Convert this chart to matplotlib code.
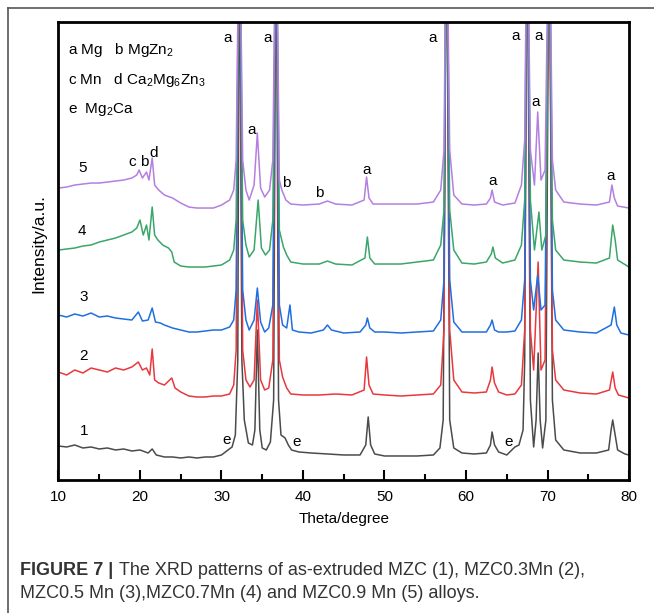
import matplotlib
matplotlib.use("Agg")
import matplotlib.pyplot as plt
from matplotlib.lines import Line2D
from matplotlib.ticker import MultipleLocator

plt.rcParams['font.family'] = ['Liberation Sans', 'DejaVu Sans']
plt.rcParams['mathtext.default'] = 'regular'

# XRD patterns, stacked (intensity already includes the vertical offset)
theta_1 = [10, 11, 12, 13, 14, 15, 16, 17, 18, 19, 20, 21, 21.5, 22, 23, 24, 25, 26, 27, 28, 29, 30,
           30.8, 31.3, 31.7, 32.0, 32.2, 32.5, 32.8, 33.3, 33.8, 34.1, 34.4, 34.7, 35.0, 35.5, 36.0, 36.4,
           36.7, 37.0, 37.3, 37.8, 38.2, 38.6, 39.5, 41, 43, 45, 47, 47.7, 48.0, 48.3, 48.8, 50, 52, 54,
           56, 56.8, 57.2, 57.6, 58.0, 58.5, 59.5, 61, 62.5, 63.0, 63.2, 63.5, 64, 65, 66, 66.5, 67.0,
           67.2, 67.5, 67.9, 68.3, 68.6, 68.85, 69.1, 69.4, 69.8, 70.2, 70.6, 71.0, 72, 74, 76, 77.5,
           77.8, 78.0, 78.3, 78.6, 79.5, 80]
int_1 = [34, 33, 35, 32, 33, 31, 32, 30, 31, 29, 30, 27, 31, 25, 23, 23, 22, 23, 22, 23, 23, 25,
         30, 33, 45, 120, 600, 120, 60, 37, 35, 50, 150, 50, 32, 30, 38, 80,
         600, 80, 45, 42, 35, 30, 28, 27, 26, 25, 25, 35, 63, 35, 26, 24, 24, 24,
         25, 32, 60, 600, 60, 32, 27, 26, 27, 35, 48, 35, 28, 25, 33, 35, 50,
         120, 600, 80, 33, 60, 127, 60, 32, 60, 600, 80, 40, 30, 27, 27, 30,
         50, 60, 45, 30, 26, 25]

theta_2 = [10, 11, 12, 13, 14, 15, 16, 17, 18, 19, 19.8, 20.3, 20.8, 21.2, 21.5, 21.8, 22.3, 23, 23.9,
           24.3, 25, 26, 27, 28, 29, 30, 31, 31.5, 31.8, 32.2, 32.6, 33.0, 33.5, 34.0, 34.4, 34.8, 35.3,
           35.8, 36.3, 36.7, 37.1, 37.5, 38.0, 38.5, 40, 42, 44, 46, 47.5, 47.8, 48.1, 48.6, 50, 52, 54,
           56, 56.9, 57.3, 57.6, 58.0, 58.5, 59.5, 61, 62.5, 63.0, 63.2, 63.5, 64, 65, 66, 66.8, 67.2,
           67.5, 67.9, 68.3, 68.85, 69.2, 69.7, 70.2, 70.6, 71.0, 72, 74, 76, 77.6, 78.0, 78.3, 78.7, 80]
int_2 = [108, 105, 110, 107, 112, 110, 108, 112, 110, 113, 118, 110, 112, 105, 131, 100, 97, 95, 102,
         92, 88, 84, 83, 83, 84, 84, 86, 95, 130, 600, 130, 100, 93, 100, 180, 100, 90,
         92, 120, 600, 120, 103, 92, 86, 85, 85, 86, 85, 90, 123, 95, 86, 85, 84, 85,
         86, 95, 150, 600, 150, 100, 88, 87, 88, 100, 113, 97, 88, 85, 86, 95, 150,
         600, 150, 110, 218, 110, 120, 600, 130, 100, 90, 87, 86, 90, 108, 92, 85, 82]

theta_3 = [10, 11, 12, 13, 14, 15, 16, 17, 18, 19, 19.8, 20.3, 21.0, 21.5, 21.9, 22.5, 23, 24, 25, 26,
           27, 28, 29, 30, 31, 31.5, 31.8, 32.2, 32.6, 33.0, 33.4, 34.0, 34.4, 34.8, 35.3, 35.8, 36.3,
           36.7, 37.1, 37.5, 38.0, 38.4, 38.7, 39.5, 41, 42.5, 43.0, 43.5, 45, 47, 47.7, 47.9, 48.2,
           48.8, 50, 52, 54, 56, 56.9, 57.3, 57.6, 58, 58.5, 59.5, 61, 62.5, 63.0, 63.2, 63.5, 64, 65,
           66, 66.8, 67.2, 67.5, 67.9, 68.3, 68.8, 69.2, 69.7, 70.2, 70.6, 71.0, 72, 74, 76, 77.8, 78.2,
           78.5, 79, 80]
int_3 = [165, 163, 166, 164, 167, 163, 164, 162, 161, 160, 168, 159, 160, 172, 158, 157, 155, 152, 150, 148,
         148, 149, 150, 150, 153, 160, 190, 600, 190, 160, 150, 160, 192, 158, 148, 152, 175,
         600, 175, 155, 152, 175, 150, 148, 147, 150, 155, 150, 147, 148, 155, 162, 152,
         148, 148, 147, 148, 149, 160, 200, 600, 200, 158, 148, 148, 148, 155, 160, 150, 148, 148,
         149, 160, 200, 600, 200, 170, 205, 170, 175, 600, 190, 160, 150, 148, 147, 155, 173,
         155, 147, 145]

theta_4 = [10, 11, 12, 13, 14, 15, 16, 17, 18, 19, 19.6, 20.0, 20.4, 20.8, 21.1, 21.5, 21.8, 22.2, 22.8,
           23.5, 23.9, 24.2, 25, 26, 27, 28, 29, 30, 31, 31.5, 31.8, 32.2, 32.6, 33.0, 33.4, 34.0, 34.5,
           34.9, 35.4, 35.9, 36.3, 36.7, 37.1, 37.6, 38.0, 38.5, 40, 42, 43, 44, 46, 47.6, 47.9, 48.2,
           48.8, 50, 52, 54, 56, 56.9, 57.3, 57.6, 58, 58.5, 59.5, 61, 62.5, 63.1, 63.3, 63.6, 64.5, 66,
           66.8, 67.2, 67.5, 67.9, 68.4, 68.95, 69.3, 69.8, 70.2, 70.6, 71.0, 72, 74, 76, 77.6, 78.0,
           78.3, 78.6, 80]
int_4 = [230, 231, 232, 234, 235, 238, 240, 242, 245, 248, 252, 260, 245, 255, 240, 273, 245, 240, 235,
         232, 228, 218, 214, 213, 213, 213, 214, 215, 220, 230, 260, 600, 260, 235, 223, 230, 280,
         232, 225, 230, 260, 600, 250, 233, 225, 218, 216, 216, 219, 216, 215, 222, 243, 222,
         216, 216, 216, 218, 220, 235, 270, 600, 270, 230, 217, 216, 218, 226, 233, 222, 217, 220,
         235, 280, 600, 280, 230, 268, 230, 245, 600, 260, 230, 220, 218, 217, 222, 255,
         240, 220, 213]

theta_5 = [10, 11, 12, 13, 14, 15, 16, 17, 18, 19, 19.6, 19.9, 20.3, 20.8, 21.1, 21.5, 21.8, 22.3, 23,
           24, 25, 26, 27, 28, 29, 30, 31, 31.5, 31.8, 32.2, 32.6, 33.0, 33.4, 34.0, 34.4, 34.8, 35.3,
           35.9, 36.3, 36.7, 37.1, 37.4, 37.9, 38.5, 40, 42, 43, 44, 46, 47.5, 47.8, 48.1, 48.6, 50,
           52, 54, 56, 56.9, 57.3, 57.6, 58, 58.5, 59.5, 61, 62.5, 63.0, 63.2, 63.5, 64.5, 66, 66.8,
           67.2, 67.5, 67.9, 68.4, 68.8, 69.2, 69.7, 70.2, 70.6, 71.0, 72, 74, 76, 77.6, 77.9, 78.2,
           78.6, 80]
int_5 = [292, 293, 295, 296, 297, 297, 298, 299, 300, 302, 305, 310, 302, 308, 300, 322, 295, 290, 285,
         282, 277, 273, 272, 272, 272, 275, 280, 290, 320, 600, 320, 290, 280, 295, 347, 292, 283,
         290, 320, 600, 300, 290, 280, 276, 275, 276, 279, 276, 275, 280, 303, 282, 276, 276,
         276, 276, 278, 290, 330, 600, 330, 285, 276, 275, 276, 282, 290, 278, 275, 277, 295,
         340, 600, 330, 295, 368, 300, 310, 600, 320, 290, 278, 276, 275, 278, 295, 282,
         274, 272]

series_theta = [theta_1, theta_2, theta_3, theta_4, theta_5]
series_int = [int_1, int_2, int_3, int_4, int_5]
series_names = ['1', '2', '3', '4', '5']
series_colors = ['#4b4b4b', '#e8383d', '#1f6fe0', '#3aa66a', '#b47fe0']

# sample number labels (theta, intensity)
name_pos = [(13.2, 49), (13.1, 124), (13.1, 183), (12.9, 249), (13.0, 312)]

# phase markers: (text, theta, intensity)
phase_marks = [('a', 30.7, 442), ('a', 35.6, 442), ('a', 55.9, 442), ('a', 66.1, 444), ('a', 68.9, 444),
               ('a', 33.7, 350), ('a', 68.6, 378), ('a', 47.8, 310), ('a', 63.3, 299), ('a', 77.7, 304),
               ('b', 37.9, 297), ('b', 42.0, 287),
               ('c', 19.0, 318), ('b', 20.5, 318), ('d', 21.7, 327),
               ('e', 30.6, 40), ('e', 39.2, 38), ('e', 65.2, 38)]

phase_key = ['a Mg   b MgZn$_2$', 'c Mn   d Ca$_2$Mg$_6$Zn$_3$', 'e  Mg$_2$Ca']

fig = plt.figure(figsize=(6.54, 6.13), dpi=100)
ax = fig.add_axes([0.0894, 0.217, 0.8724, 0.747])

for th, it, c in zip(series_theta, series_int, series_colors):
    ax.plot(th, it, color=c, lw=1.1)

for (x, y), n in zip(name_pos, series_names):
    ax.text(x, y, n, fontsize=11, ha='center', va='center')
for t, x, y in phase_marks:
    ax.text(x, y, t, fontsize=11, ha='center', va='center')
for i, line in enumerate(phase_key):
    ax.text(0.016, 0.94 - i * 0.066, line, transform=ax.transAxes, fontsize=11, ha='left', va='center')

ax.set_xlim(10, 80)
ax.set_ylim(0, 458)
ax.set_yticks([])
ax.xaxis.set_major_locator(MultipleLocator(10))
ax.xaxis.set_minor_locator(MultipleLocator(5))
ax.tick_params(axis='x', which='major', direction='in', length=7, width=1.5, labelsize=11, pad=7, top=False)
ax.tick_params(axis='x', which='minor', direction='in', length=4, width=1.5, top=False)
for s in ax.spines.values():
    s.set_linewidth(2)
ax.set_xlabel('Theta/degree', fontsize=11, labelpad=6)
ax.set_ylabel('Intensity/a.u.', fontsize=12.5)
ax.yaxis.set_label_coords(-0.022, 0.517)

# outer frame of the figure panel
fig.add_artist(Line2D([8 / 654, 8 / 654], [0, 1 - 8 / 613], color='#555555', lw=1.2))
fig.add_artist(Line2D([8 / 654, 1], [1 - 8 / 613, 1 - 8 / 613], color='#555555', lw=1.2))

cap_font = ['Liberation Sans Narrow', 'Liberation Sans', 'DejaVu Sans']
t1 = fig.text(20 / 654, 1 - 575 / 613, 'FIGURE 7 |', fontsize=13, fontweight='bold',
              color='#333333', family=cap_font, va='baseline')
ax.annotate('The XRD patterns of as-extruded MZC (1), MZC0.3Mn (2),', xy=(1, 0), xycoords=t1,
            xytext=(4, 0), textcoords='offset points', fontsize=13, color='#333333',
            family=cap_font, va='bottom', annotation_clip=False)
fig.text(20 / 654, 1 - 598 / 613, 'MZC0.5 Mn (3),MZC0.7Mn (4) and MZC0.9 Mn (5) alloys.',
         fontsize=13, color='#333333', family=cap_font, va='baseline')

fig.savefig('out.png', dpi=100)
